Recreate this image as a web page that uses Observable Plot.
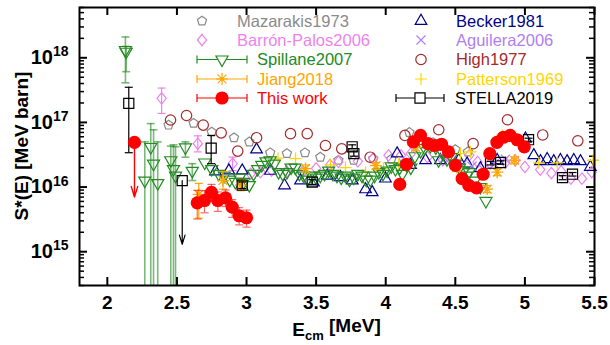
<!DOCTYPE html>
<html><head><meta charset="utf-8">
<script src="https://cdn.jsdelivr.net/npm/d3@7"></script>
<script src="https://cdn.jsdelivr.net/npm/@observablehq/plot@0.6"></script>
<style>body{margin:0;background:#fff}</style>
</head><body>
<script>
// ---------- tick values ----------
const xTicks = [2, 2.5, 3, 3.5, 4, 4.5, 5, 5.5];
const yTicks = [1e15, 1e16, 1e17, 1e18];

// ---------- Mazarakis1973 ----------
const mazE = [2.44,2.62,2.75,2.91,3.02,3.17,3.29,3.42,3.53,3.66,3.77,3.91,4.04,4.17,4.34,4.50,4.59,4.79];
const mazS = [9.1e16,9.7e16,7.1e16,5.8e16,5.0e16,3.4e16,3.3e16,3.4e16,2.9e16,2.6e16,2.6e16,2.75e16,2.7e16,7.0e16,4.9e16,3.8e16,3.5e16,5.0e16];

// ---------- Barrón-Palos2006 ----------
const bpE  = [2.39,2.65,2.90,3.03,3.10,3.18,3.29,3.40,3.50,3.60,3.66,3.80,3.91,4.02,4.11,4.18,4.30,4.41,4.50,4.60,4.66,4.75,4.86,4.93,5.00,5.11,5.19,5.26,5.33,5.41,5.48];
const bpS  = [2.36e17,4.7e16,2.3e16,1.6e16,1.7e16,1.8e16,1.74e16,1.7e16,1.95e16,2.2e16,2.45e16,2.5e16,2.76e16,3.1e16,3.1e16,3.3e16,2.9e16,2.6e16,2.4e16,3.1e16,2.45e16,2.3e16,2.4e16,2.6e16,2.05e16,1.86e16,1.64e16,1.75e16,1.35e16,1.35e16,1.7e16];
const bpLo = [1.38e17,3.5e16,1.8e16];
const bpHi = [3.4e17,6.2e16,2.9e16];

// ---------- Spillane2007 ----------
const spE  = [2.13,2.135,2.269,2.312,2.332,2.362,2.456,2.475,2.49,2.561,2.61,
  2.70,2.75,2.80,2.84,2.88,2.92,2.95,2.98,3.02,3.05,3.08,3.11,3.14,3.17,3.20,3.23,3.26,3.29,3.32,3.35,3.38,3.41,3.44,3.47,3.50,3.53,3.56,3.59,3.62,3.65,3.68,3.71,3.74,3.77,3.80,3.83,3.86,3.89,3.92,3.95,3.98,4.01,4.04,4.07,4.10,4.12,4.15,4.18,4.21,4.25,4.28,4.32,4.36,4.38,4.41,4.44,4.47,4.50,4.53,4.56,4.58,4.60,4.64,4.68,4.72];
const spS  = [1.32e18,1.24e18,1.26e16,4.17e16,2.3e16,1.15e16,2.6e16,1.9e16,1.5e16,4.1e16,1.78e16,
  2.4e16,1.9e16,1.6e16,1.5e16,1.3e16,1.2e16,1.4e16,1.2e16,1.07e16,1.6e16,1.9e16,2.2e16,2.5e16,2.6e16,2.3e16,1.7e16,1.6e16,1.7e16,2.0e16,2.0e16,1.6e16,1.5e16,1.3e16,1.5e16,1.4e16,1.5e16,1.6e16,1.8e16,1.6e16,1.5e16,1.4e16,1.5e16,1.3e16,1.4e16,1.6e16,1.5e16,1.3e16,1.3e16,1.5e16,1.7e16,1.6e16,1.8e16,2.1e16,1.9e16,2.0e16,1.6e16,2.2e16,2.0e16,3.0e16,3.6e16,4.0e16,4.3e16,4.1e16,2.6e16,3.3e16,2.7e16,2.9e16,2.3e16,2.0e16,1.8e16,1.5e16,1.7e16,1.26e16,1.0e16,6.1e15];
const spLo = [4.1e17,6.1e17,1e13,1e13,1e13,1e13,1e13,1e13,1e13,2.9e16,1.26e16];
const spHi = [2.1e18,1.5e18,5.0e16,9.6e16,7.7e16,5.0e16,4.3e16,4.5e16,4.2e16,5.0e16,2.3e16];

// ---------- Jiang2018 ----------
const jiE  = [2.657,2.831,2.96,3.424,3.93,4.214,4.51,4.729,4.801,4.927];
const jiS  = [7.7e15,1.26e16,1.07e16,1.93e16,2.14e16,4.1e16,2.0e16,9.3e15,1.7e16,2.6e16];
const jiLo = [3.3e15,9.3e15,8.8e15,1.7e16,1.9e16,3.7e16,1.8e16,8.2e15,1.5e16,2.3e16];
const jiHi = [1.14e16,1.74e16,1.3e16,2.2e16,2.4e16,4.5e16,2.2e16,1.05e16,1.9e16,2.9e16];

// ---------- This work ----------
const twE  = [2.646,2.698,2.748,2.794,2.849,2.897,2.947,3.0,4.101,4.149,4.199,4.25,4.304,4.35,4.401,4.451,4.501,4.549,4.597,4.652,4.70,4.748,4.799,4.846,4.894,4.944,4.995];
const twS  = [5.7e15,6.2e15,8.3e15,6.2e15,6.8e15,4.9e15,3.6e15,3.35e15,1.1e16,2.24e16,5.0e16,6.3e16,4.7e16,4.4e16,4.6e16,3.5e16,2.17e16,1.35e16,1.06e16,9.7e15,1.58e16,3.3e16,4.9e16,5.9e16,6.3e16,5.4e16,4.2e16];
const twLo = [3.2e15,4.0e15,6.0e15,4.2e15,5.0e15,3.4e15,2.6e15,2.4e15];
const twHi = [8.9e15,8.8e15,1.1e16,8.4e15,9.0e15,6.4e15,4.8e15,4.4e15];
const twUlE = [2.195], twUlS = [4.9e16], twUlTo = [7.0e15];

// ---------- Becker1981 ----------
const beE = [2.777,2.873,2.969,3.072,3.172,3.273,3.388,3.481,3.58,3.675,3.76,3.855,3.903,3.998,4.082,4.178,4.286,4.393,4.525,4.585,4.68,4.801,5.004,5.064,5.112,5.16,5.207,5.255,5.303,5.351,5.399,5.47];
const beS = [1.74e16,1.8e16,1.8e16,3.8e16,1.78e16,1.06e16,1.26e16,1.17e16,1.5e16,1.42e16,1.26e16,9.2e15,8.3e15,1.35e16,3.3e16,2.2e16,2.6e16,2.6e16,2.6e16,2.3e16,1.95e16,2.6e16,5.6e16,3.1e16,2.5e16,2.7e16,2.5e16,2.6e16,2.5e16,2.6e16,2.5e16,2.05e16];

// ---------- Aguilera2006 ----------
const agE = [4.42,4.47,4.55,4.62,4.70,4.78,4.86];
const agS = [2.8e16,2.5e16,2.2e16,2.1e16,1.9e16,2.3e16,2.7e16];

// ---------- High1977 ----------
const hiE = [2.454,2.569,2.689,2.818,2.937,3.072,3.316,3.436,3.567,3.684,3.888,4.138,4.381,4.628,4.875,5.128,5.38];
const hiS = [1.09e17,1.28e17,9.1e16,6.9e16,3.6e16,5.8e16,6.7e16,6.7e16,4.4e16,3.9e16,2.9e16,6.3e16,7.7e16,4.7e16,1.1e17,6.4e16,5.2e16];

// ---------- Patterson1969 ----------
const paE = [3.226,3.352,3.603,3.711,3.855,3.984,4.094,4.226,4.357,4.537,4.609,4.837,5.1,5.232,5.49];
const paS = [2.8e16,2.76e16,2.2e16,2.0e16,1.7e16,1.95e16,2.35e16,5.6e16,4.0e16,3.3e16,3.5e16,6.3e16,2.37e16,2.37e16,2.6e16];

// ---------- STELLA2019 ----------
const stE  = [2.154,2.746,2.969,3.472,3.759,3.771,4.753,4.825,5.026,5.27,5.342];
const stS  = [1.97e17,4.0e16,1.07e16,1.19e16,4.2e16,3.3e16,2.34e16,2.4e16,5.4e16,1.4e16,1.58e16];
const stLo = [3.4e16,2.3e16,9.5e15,1.1e16,3.9e16,3.0e16,2.2e16,2.25e16,5.1e16,1.3e16,1.48e16];
const stHi = [3.5e17,6.3e16,1.2e16,1.3e16,4.5e16,3.6e16,2.5e16,2.55e16,5.7e16,1.5e16,1.68e16];
const stUlE = [2.538], stUlS = [1.26e16], stUlTo = [1.3e15];

// ---------- colours ----------
const C = {maz:"#8a8a8a", bp:"#ee82ee", sp:"#228b22", ji:"#ffa500", tw:"#ff0000",
           be:"#00008b", ag:"#b080f0", hi:"#a52a2a", pa:"#ffd700", st:"#000000"};

// ---------- build tables ----------
const pts = (E, S) => E.map((e, i) => ({E: e, S: S[i]}));
const errs = (E, Lo, Hi) => Lo.map((l, i) => ({E: E[i], lo: l, hi: Hi[i]})).filter(d => d.lo != null);
const ul = (E, S, To) => E.map((e, i) => ({E: e, S: S[i], to: To[i]}));

// ---------- custom symbols ----------
const R = s => Math.sqrt(s / Math.PI);
const symPent = {draw(c, s){const r=R(s)*1.15; for(let i=0;i<5;i++){const a=-Math.PI/2+i*2*Math.PI/5; const x=r*Math.cos(a), y=r*Math.sin(a); i?c.lineTo(x,y):c.moveTo(x,y);} c.closePath();}};
const symTriD = {draw(c, s){const r=R(s)*1.4; c.moveTo(0,r); c.lineTo(r*0.866,-r*0.5); c.lineTo(-r*0.866,-r*0.5); c.closePath();}};
const symTriU = {draw(c, s){const r=R(s)*1.4; c.moveTo(0,-r); c.lineTo(r*0.866,r*0.5); c.lineTo(-r*0.866,r*0.5); c.closePath();}};
const symDiam = {draw(c, s){const r=R(s); c.moveTo(0,-r*1.3); c.lineTo(r*1.05,0); c.lineTo(0,r*1.3); c.lineTo(-r*1.05,0); c.closePath();}};
const symSq   = {draw(c, s){const r=R(s)*0.9; c.rect(-r,-r,2*r,2*r);}};
const symPlus = {draw(c, s){const r=R(s)*1.2; c.moveTo(-r,0); c.lineTo(r,0); c.moveTo(0,-r); c.lineTo(0,r);}};
const symX    = {draw(c, s){const r=R(s)*0.9; c.moveTo(-r,-r); c.lineTo(r,r); c.moveTo(-r,r); c.lineTo(r,-r);}};
const symStar = {draw(c, s){const r=R(s)*1.2, q=r*0.72; c.moveTo(-r,0); c.lineTo(r,0); c.moveTo(0,-r); c.lineTo(0,r); c.moveTo(-q,-q); c.lineTo(q,q); c.moveTo(-q,q); c.lineTo(q,-q);}};
const symCap  = {draw(c, s){c.moveTo(-4,0); c.lineTo(4,0);}};

// error bar helper
function errMarks(data, color, opt = {}) {
  const lw = opt.width ?? 1.2, op = opt.opacity ?? 1;
  return [
    Plot.ruleX(data, {x: "E", y1: "lo", y2: "hi", stroke: color, strokeWidth: lw, strokeOpacity: op, clip: true}),
    Plot.dot(data.filter(d => d.lo > 3.2e14), {x: "E", y: "lo", symbol: symCap, r: 3, stroke: color, strokeWidth: lw, strokeOpacity: op, fill: "none"}),
    Plot.dot(data, {x: "E", y: "hi", symbol: symCap, r: 3, stroke: color, strokeWidth: lw, strokeOpacity: op, fill: "none"})
  ];
}

// minor y ticks (positions of the log axis only)
const yMinor = [];
for (let n = 14; n <= 18; n++) for (let m = 2; m <= 9; m++) { const v = m * 10 ** n; if (v >= 3e14 && v <= 6e18) yMinor.push(v); }

const W = 610, H = 345, ML = 79, MR = 16, MT = 7, MB = 60;
const PW = W - ML - MR, PH = H - MT - MB;

const svg = Plot.plot({
  width: W, height: H, marginLeft: ML, marginRight: MR, marginTop: MT, marginBottom: MB,
  style: {fontFamily: "'Liberation Sans', Arial, sans-serif", fontSize: "19px", fontWeight: "bold", background: "#fff", color: "#000"},
  x: {domain: [1.8, 5.5], ticks: xTicks, tickFormat: d => String(d), tickSize: 0, tickPadding: 10, label: null},
  y: {type: "log", domain: [3e14, 6e18], ticks: yTicks, tickFormat: d => "10|" + Math.round(Math.log10(d)), tickSize: 0, tickPadding: 11, label: null},
  marks: [
    // axis ticks (inward)
    Plot.ruleX(xTicks, {x: d => d, insetTop: PH - 8, strokeWidth: 2}),
    Plot.ruleX(xTicks, {x: d => d, insetBottom: PH - 8, strokeWidth: 2}),
    Plot.ruleY(yTicks, {y: d => d, insetRight: PW - 8, strokeWidth: 2}),
    Plot.ruleY(yTicks, {y: d => d, insetLeft: PW - 8, strokeWidth: 2}),
    Plot.ruleY(yMinor, {y: d => d, insetRight: PW - 5, strokeWidth: 1.5}),
    Plot.ruleY(yMinor, {y: d => d, insetLeft: PW - 5, strokeWidth: 1.5}),

    // Mazarakis1973
    Plot.dot(pts(mazE, mazS), {x: "E", y: "S", symbol: symPent, r: 4.2, stroke: C.maz, fill: "none", strokeWidth: 1.2}),
    // Barrón-Palos2006
    ...errMarks(errs(bpE, bpLo, bpHi), C.bp),
    Plot.dot(pts(bpE, bpS), {x: "E", y: "S", symbol: symDiam, r: 4.4, stroke: C.bp, fill: "none", strokeWidth: 1.2}),
    // Becker1981
    Plot.dot(pts(beE, beS), {x: "E", y: "S", symbol: symTriU, r: 4.8, stroke: C.be, fill: "none", strokeWidth: 1.2}),
    // Aguilera2006
    Plot.dot(pts(agE, agS), {x: "E", y: "S", symbol: symX, r: 5, stroke: C.ag, fill: "none", strokeWidth: 1.2}),
    // High1977
    Plot.dot(pts(hiE, hiS), {x: "E", y: "S", r: 5.2, stroke: C.hi, fill: "none", strokeWidth: 1.2}),
    // Patterson1969
    Plot.dot(pts(paE, paS), {x: "E", y: "S", symbol: symPlus, r: 5, stroke: C.pa, fill: "none", strokeWidth: 1.3}),
    // Spillane2007
    ...errMarks(errs(spE, spLo, spHi), C.sp, {width: 1.6, opacity: 0.6}),
    Plot.dot(pts(spE, spS), {x: "E", y: "S", symbol: symTriD, r: 5, stroke: C.sp, fill: "none", strokeWidth: 1.2}),
    // Jiang2018
    ...errMarks(errs(jiE, jiLo, jiHi), C.ji),
    Plot.dot(pts(jiE, jiS), {x: "E", y: "S", symbol: symStar, r: 5, stroke: C.ji, fill: "none", strokeWidth: 1.3}),
    // STELLA2019
    ...errMarks(errs(stE, stLo, stHi), C.st),
    Plot.arrow(ul(stUlE, stUlS, stUlTo), {x: "E", y1: "S", y2: "to", stroke: C.st, strokeWidth: 1.2, headLength: 12, headAngle: 34}),
    Plot.dot(pts(stE, stS).concat(pts(stUlE, stUlS)), {x: "E", y: "S", symbol: symSq, r: 5.6, stroke: C.st, fill: "none", strokeWidth: 1.2}),
    // This work
    ...errMarks(errs(twE, twLo, twHi), C.tw, {opacity: 0.6}),
    Plot.arrow(ul(twUlE, twUlS, twUlTo), {x: "E", y1: "S", y2: "to", stroke: C.tw, strokeWidth: 1.4, headLength: 12, headAngle: 34}),
    Plot.dot(pts(twE, twS).concat(pts(twUlE, twUlS)), {x: "E", y: "S", r: 6.6, fill: C.tw, stroke: "none"}),

    Plot.frame({stroke: "#000", strokeWidth: 2})
  ]
});

const s = d3.select(svg);
// superscript y tick labels
s.selectAll("text").each(function() {
  const t = d3.select(this), m = /^10\|(\d+)$/.exec(t.text());
  if (!m) return;
  t.text("").attr("font-size", "20px");
  t.append("tspan").text("10");
  t.append("tspan").attr("dy", "-0.55em").attr("font-size", "14px").text(m[1]);
});
// axis titles
const xt = s.append("text").attr("x", ML + PW / 2).attr("y", 336).attr("text-anchor", "middle").attr("font-size", "19px");
xt.append("tspan").text("E");
xt.append("tspan").attr("dy", "0.3em").attr("font-size", "13px").text("cm");
xt.append("tspan").attr("dy", "-0.4em").text(" [MeV]");
s.append("text").attr("transform", `translate(28,${MT + PH / 2}) rotate(-90)`).attr("text-anchor", "middle").attr("font-size", "19px").text("S*(E) [MeV barn]");

// legend
const legend = [
  {name: "Mazarakis1973",    c: C.maz, sym: symPent, sz: 4.2, sx: 202, tx: 237, y: 21},
  {name: "Barrón-Palos2006", c: C.bp,  sym: symDiam, sz: 4.4, sx: 202, tx: 237, y: 40},
  {name: "Spillane2007",     c: C.sp,  sym: symTriD, sz: 5,   sx: 222, tx: 257, y: 59.5, bar: [197, 247]},
  {name: "Jiang2018",        c: C.ji,  sym: symStar, sz: 5,   sx: 222, tx: 257, y: 79, bar: [197, 247]},
  {name: "This work",        c: C.tw,  sym: d3.symbolCircle, sz: 6.6, sx: 222, tx: 257, y: 98, bar: [197, 247], filled: true},
  {name: "Becker1981",       c: C.be,  sym: symTriU, sz: 4.8, sx: 421, tx: 456, y: 21},
  {name: "Aguilera2006",     c: C.ag,  sym: symX,    sz: 5,   sx: 421, tx: 456, y: 40},
  {name: "High1977",         c: C.hi,  sym: d3.symbolCircle, sz: 5.2, sx: 421, tx: 456, y: 59.5},
  {name: "Patterson1969",    c: C.pa,  sym: symPlus, sz: 5,   sx: 421, tx: 456, y: 79},
  {name: "STELLA2019",       c: C.st,  sym: symSq,   sz: 5.6, sx: 420, tx: 455, y: 98, bar: [396, 444]}
];
const lg = s.append("g").attr("font-weight", "normal").attr("font-size", "16.5px").attr("text-anchor", "start");
for (const d of legend) {
  if (d.bar) {
    lg.append("line").attr("x1", d.bar[0]).attr("x2", d.bar[1]).attr("y1", d.y).attr("y2", d.y).attr("stroke", d.c).attr("stroke-width", 1.2);
    for (const bx of d.bar) lg.append("line").attr("x1", bx).attr("x2", bx).attr("y1", d.y - 4).attr("y2", d.y + 4).attr("stroke", d.c).attr("stroke-width", 1.2);
  }
  lg.append("path").attr("transform", `translate(${d.sx},${d.y})`)
    .attr("d", d3.symbol(d.sym, Math.PI * d.sz * d.sz)())
    .attr("fill", d.filled ? d.c : "#fff").attr("stroke", d.filled ? "none" : d.c).attr("stroke-width", 1.2);
  lg.append("text").attr("x", d.tx).attr("y", d.y).attr("dy", "0.36em").attr("text-anchor", "start").attr("fill", d.c).text(d.name);
}
document.body.appendChild(svg);
</script>
</body></html>
